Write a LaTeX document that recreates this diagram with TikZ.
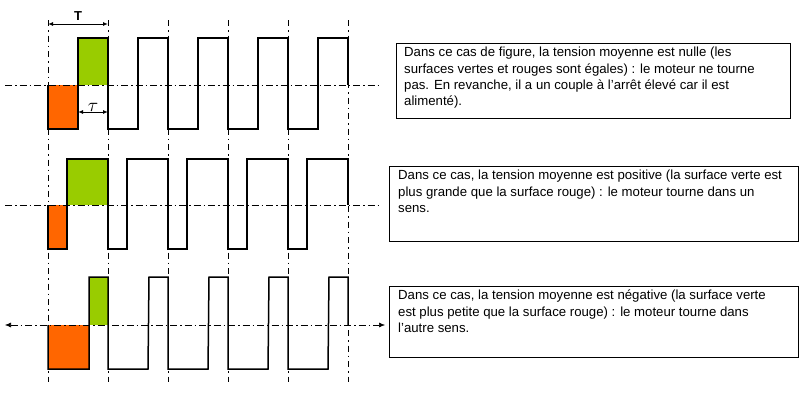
\documentclass[tikz,border=0pt]{standalone}
\usepackage{fontspec}
\setmainfont{Liberation Sans}
\usetikzlibrary{arrows.meta}
\definecolor{vert}{RGB}{153,204,0}
\definecolor{orange}{RGB}{255,102,0}
\begin{document}
\begin{tikzpicture}[x=1pt,y=-1pt,
  wave/.style={line width=1.5pt,line join=miter},
  axis/.style={line width=0.6pt,dash pattern=on 7pt off 3pt on 1.5pt off 3pt},
  vaxis/.style={line width=0.6pt,dash pattern=on 6pt off 4pt on 1.5pt off 4pt},
  dim/.style={line width=1pt,{Latex[length=5pt,width=4pt]}-{Latex[length=5pt,width=4pt]}},
  boxf/.style={draw,line width=0.8pt,anchor=north west,inner sep=0pt},
  txt/.style={anchor=north west,align=left,font=\fontsize{13.2}{16.3}\selectfont,inner sep=0pt}]
\useasboundingbox (0,0) rectangle (800,400);
% vertical guide lines
\foreach \x in {48,108,168,228,288,348} \draw[vaxis] (\x,20) -- (\x,382);
% ---- wave 1
\fill[orange] (48,85) rectangle (78,129);
\fill[vert] (78,38) rectangle (108,85);
\draw[axis] (5,85) -- (380,85);
\draw[wave] (48,85) -- (48,129) -- (78,129)
  \foreach \k in {0,1,2,3,4}{ -- ({78+60*\k},38) -- ({108+60*\k},38) -- ({108+60*\k},\ifnum\k<4 129\else 85\fi) \ifnum\k<4 -- ({138+60*\k},129)\fi};
\coordinate (t1) at (48,24); \coordinate (t2) at (108,24);
\draw[dim] (t1) -- node[above=0pt,font=\bfseries\fontsize{13}{13}\selectfont] {T} (t2);
\coordinate (u1) at (78,112); \coordinate (u2) at (108,112);
\draw[dim] (u1) -- node[above=-3pt] {\scalebox{1.9}{$\tau$}} (u2);
% ---- wave 2
\fill[orange] (48,205) rectangle (67,249);
\fill[vert] (67,159) rectangle (108,205);
\draw[axis] (5,205) -- (380,205);
\draw[wave] (48,205) -- (48,249) -- (67,249)
  \foreach \k in {0,1,2,3,4}{ -- ({67+60*\k},159) -- ({108+60*\k},159) -- ({108+60*\k},\ifnum\k<4 249\else 205\fi) \ifnum\k<4 -- ({127+60*\k},249)\fi};
% ---- wave 3
\fill[orange] (48,325) rectangle (89,369);
\fill[vert] (89,277) rectangle (108,325);
\coordinate (a1) at (5,325); \coordinate (a2) at (385,325);
\draw[axis,{Latex[length=6pt,width=5pt]}-{Latex[length=6pt,width=5pt]}] (a1) -- (a2);
\draw[wave] (48,325) -- (48,369) -- (89,369)
  \foreach \k in {0,1,2,3,4}{ -- ({89+60*\k},277) -- ({108+60*\k},277) -- ({108+60*\k},\ifnum\k<4 369\else 325\fi) \ifnum\k<4 -- ({148+60*\k},369)\fi};
% ---- text boxes
\node[boxf,minimum width=394pt,minimum height=75pt] (b1) at (396,43) {};
\node[txt] (x1) at (404,47) {Dans ce cas de figure, la tension moyenne est nulle (les\\surfaces vertes et rouges sont égales) : le moteur ne tourne\\pas. En revanche, il a un couple à l'arrêt élevé car il est\\alimenté).};
\node[boxf,minimum width=409pt,minimum height=75pt] (b2) at (389,166) {};
\node[txt] (x2) at (398,170) {Dans ce cas, la tension moyenne est positive (la surface verte est\\plus grande que la surface rouge) : le moteur tourne dans un\\sens.};
\node[boxf,minimum width=409pt,minimum height=71pt] (b3) at (389,286) {};
\node[txt] (x3) at (398,290) {Dans ce cas, la tension moyenne est négative (la surface verte\\est plus petite que la surface rouge) : le moteur tourne dans\\l'autre sens.};
\end{tikzpicture}
\end{document}
